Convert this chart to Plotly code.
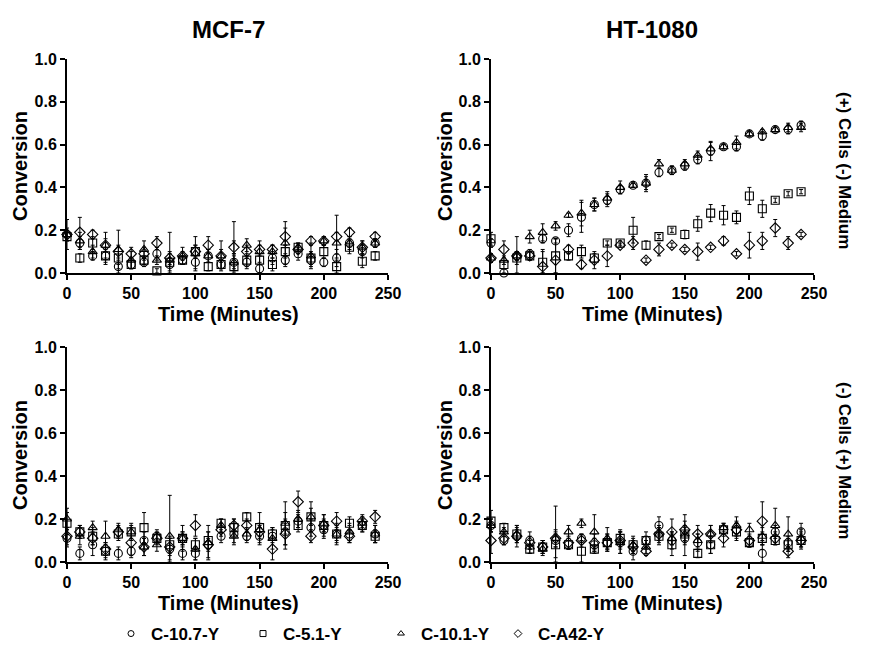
import plotly.graph_objects as go

time = [0, 10, 20, 30, 40, 50, 60, 70, 80, 90, 100, 110, 120, 130, 140, 150, 160, 170, 180, 190, 200, 210, 220, 230, 240]
series_names = ["C-10.7-Y", "C-5.1-Y", "C-10.1-Y", "C-A42-Y"]
col_titles = ["MCF-7", "HT-1080"]
row_titles = ["(+) Cells (-) Medium", "(-) Cells (+) Medium"]
x_ticks = [0, 50, 100, 150, 200, 250]
y_ticks = [0.0, 0.2, 0.4, 0.6, 0.8, 1.0]

# MCF-7, (+) cells (-) medium
mcf_pc_c107 = [.18, .14, .08, .08, .03, .04, .05, .09, .04, .06, .05, .08, .04, .05, .05, .02, .07, .06, .09, .06, .05, .07, .14, .10, .14]
mcf_pc_c51 = [.17, .07, .14, .08, .07, .04, .06, .01, .05, .06, .10, .03, .04, .03, .06, .06, .04, .10, .12, .07, .10, .03, .12, .055, .08]
mcf_pc_c101 = [.18, .15, .10, .13, .11, .06, .11, .06, .06, .08, .09, .08, .08, .05, .13, .10, .10, .14, .12, .08, .15, .14, .14, .12, .14]
mcf_pc_a42 = [.18, .19, .18, .13, .10, .09, .09, .14, .07, .08, .10, .13, .08, .12, .10, .11, .11, .17, .11, .15, .15, .17, .19, .12, .17]
mcf_pc_c107_err = [.02, .03, .02, .03, .03, .02, .02, .03, .03, .02, .03, .03, .02, .03, .03, .02, .03, .03, .03, .03, .02, .04, .02, .03, .02]
mcf_pc_c51_err = [.02, .02, .03, .04, .03, .02, .02, .01, .14, .02, .03, .02, .02, .21, .03, .02, .03, .03, .02, .03, .03, .03, .03, .03, .02]
mcf_pc_c101_err = [.03, .04, .03, .06, .09, .04, .04, .02, .03, .04, .08, .03, .07, .04, .03, .05, .03, .10, .02, .06, .02, .05, .03, .03, .02]
mcf_pc_a42_err = [.07, .07, .02, .03, .03, .03, .03, .03, .03, .02, .03, .04, .03, .03, .03, .02, .02, .04, .02, .02, .02, .10, .02, .03, .02]

# HT-1080, (+) cells (-) medium
ht_pc_c107 = [.14, .00, .08, .09, .16, .15, .20, .26, .32, .34, .39, .41, .42, .47, .48, .50, .53, .57, .59, .59, .65, .64, .67, .67, .69]
ht_pc_c51 = [.16, .04, .07, .08, .05, .08, .08, .10, .07, .14, .14, .20, .13, .17, .20, .18, .23, .28, .27, .26, .36, .30, .34, .37, .38]
ht_pc_c101 = [.07, .06, .08, .17, .19, .22, .27, .28, .32, .35, .40, .41, .42, .51, .48, .51, .55, .58, .59, .61, .65, .66, .67, .68, .68]
ht_pc_a42 = [.07, .11, .08, .08, .03, .06, .11, .04, .06, .08, .13, .14, .06, .11, .13, .11, .10, .12, .15, .09, .13, .15, .21, .14, .18]
ht_pc_c107_err = [.02, .02, .02, .02, .02, .01, .03, .07, .03, .03, .02, .01, .03, .02, .02, .02, .02, .045, .01, .02, .01, .02, .01, .02, .02]
ht_pc_c51_err = [.03, .02, .03, .02, .06, .08, .02, .03, .02, .01, .01, .06, .02, .01, .01, .02, .035, .04, .045, .03, .04, .04, .01, .01, .01]
ht_pc_c101_err = [.02, .02, .02, .03, .04, .02, .01, .06, .03, .03, .03, .01, .04, .02, .02, .02, .02, .03, .01, .03, .01, .01, .01, .02, .02]
ht_pc_a42_err = [.02, .04, .09, .02, .07, .10, .02, .02, .04, .05, .01, .03, .01, .03, .01, .01, .04, .01, .02, .01, .06, .04, .04, .03, .01]

# MCF-7, (-) cells (+) medium
mcf_nc_c107 = [.11, .04, .08, .05, .04, .05, .10, .12, .06, .04, .04, .08, .12, .13, .12, .12, .12, .14, .19, .16, .15, .13, .13, .17, .13]
mcf_nc_c51 = [.18, .14, .12, .05, .13, .14, .16, .11, .08, .11, .08, .10, .18, .16, .21, .16, .13, .17, .17, .21, .17, .13, .18, .17, .12]
mcf_nc_c101 = [.20, .12, .16, .12, .15, .14, .07, .08, .12, .11, .06, .09, .17, .12, .13, .15, .11, .18, .20, .21, .18, .13, .14, .18, .13]
mcf_nc_a42 = [.12, .14, .11, .06, .14, .09, .07, .11, .07, .11, .17, .08, .15, .17, .17, .14, .06, .13, .28, .12, .17, .19, .12, .19, .21]
mcf_nc_c107_err = [.04, .03, .05, .04, .03, .02, .04, .03, .05, .03, .03, .06, .03, .05, .03, .04, .03, .06, .03, .04, .04, .05, .04, .03, .04]
mcf_nc_c51_err = [.05, .03, .04, .03, .03, .03, .07, .02, .04, .03, .03, .04, .02, .04, .02, .07, .03, .11, .03, .07, .05, .03, .03, .03, .03]
mcf_nc_c101_err = [.05, .04, .03, .07, .03, .04, .04, .03, .19, .06, .05, .08, .03, .03, .03, .03, .05, .05, .04, .04, .04, .04, .04, .03, .04]
mcf_nc_a42_err = [.04, .03, .03, .03, .03, .07, .04, .03, .04, .03, .05, .03, .03, .03, .03, .03, .05, .05, .05, .03, .03, .04, .03, .03, .03]

# HT-1080, (-) cells (+) medium
ht_nc_c107 = [.17, .10, .12, .10, .07, .10, .08, .11, .08, .09, .09, .05, .10, .17, .10, .11, .09, .08, .15, .15, .09, .04, .14, .09, .14]
ht_nc_c51 = [.19, .16, .13, .06, .07, .08, .08, .05, .06, .09, .11, .08, .10, .12, .08, .13, .04, .08, .15, .14, .09, .11, .10, .08, .10]
ht_nc_c101 = [.17, .14, .13, .07, .06, .11, .14, .18, .14, .11, .09, .08, .07, .13, .11, .13, .10, .13, .16, .17, .15, .12, .17, .13, .11]
ht_nc_a42 = [.10, .11, .12, .09, .07, .11, .09, .10, .09, .09, .10, .07, .05, .13, .14, .15, .13, .13, .11, .15, .10, .19, .11, .05, .10]
ht_nc_c107_err = [.03, .02, .03, .04, .03, .03, .02, .02, .03, .04, .05, .04, .02, .04, .04, .08, .04, .04, .03, .04, .02, .04, .03, .03, .04]
ht_nc_c51_err = [.05, .02, .03, .02, .03, .06, .02, .05, .02, .04, .04, .03, .04, .04, .05, .03, .02, .04, .02, .04, .02, .03, .02, .03, .03]
ht_nc_c101_err = [.03, .02, .04, .03, .03, .15, .03, .02, .08, .05, .05, .04, .03, .04, .03, .04, .03, .04, .02, .04, .03, .04, .08, .08, .04]
ht_nc_a42_err = [.06, .03, .05, .03, .03, .04, .03, .03, .04, .03, .04, .03, .02, .03, .06, .07, .04, .04, .04, .03, .03, .09, .03, .03, .04]

panels = [
    (1, 1, [mcf_pc_c107, mcf_pc_c51, mcf_pc_c101, mcf_pc_a42], [mcf_pc_c107_err, mcf_pc_c51_err, mcf_pc_c101_err, mcf_pc_a42_err]),
    (1, 2, [ht_pc_c107, ht_pc_c51, ht_pc_c101, ht_pc_a42], [ht_pc_c107_err, ht_pc_c51_err, ht_pc_c101_err, ht_pc_a42_err]),
    (2, 1, [mcf_nc_c107, mcf_nc_c51, mcf_nc_c101, mcf_nc_a42], [mcf_nc_c107_err, mcf_nc_c51_err, mcf_nc_c101_err, mcf_nc_a42_err]),
    (2, 2, [ht_nc_c107, ht_nc_c51, ht_nc_c101, ht_nc_a42], [ht_nc_c107_err, ht_nc_c51_err, ht_nc_c101_err, ht_nc_a42_err]),
]

symbols = ["circle-open", "square-open", "triangle-up-open", "diamond-open"]
W, H = 870, 654
OFF = 8  # page body margin offset
FONT = "Liberation Sans, Arial, sans-serif"

def fx(px):
    return (px - OFF) / W

def fy(py):
    return 1 - (py - OFF) / H

xdom = {1: [fx(67), fx(388)], 2: [fx(491), fx(814)]}
ydom = {1: [fy(273), fy(59)], 2: [fy(562), fy(347)]}

fig = go.Figure()
axis_idx = 0
for (r, c, vals, errs) in panels:
    axis_idx += 1
    sfx = "" if axis_idx == 1 else str(axis_idx)
    for k in range(4):
        minus = [min(e, v) for e, v in zip(errs[k], vals[k])]
        fig.add_trace(go.Scatter(
            x=time, y=vals[k], mode="markers", name=series_names[k],
            showlegend=False,
            xaxis="x" + sfx, yaxis="y" + sfx, cliponaxis=False,
            marker=dict(symbol=symbols[k], size=8, color="black", line=dict(width=1.1, color="black")),
            error_y=dict(type="data", array=errs[k], arrayminus=minus, symmetric=False,
                         color="black", thickness=1, width=2),
        ))
    axstyle = dict(showline=True, linecolor="black", linewidth=2, ticks="outside", ticklen=5,
                   tickwidth=2, tickcolor="black", showgrid=False, zeroline=False, automargin=False,
                   tickfont=dict(family=FONT, size=16, color="black", weight="bold"))
    fig.update_layout(**{
        "xaxis" + sfx: dict(domain=xdom[c], range=[0, 250], tickvals=x_ticks,
                            anchor="y" + sfx, **axstyle),
        "yaxis" + sfx: dict(domain=ydom[r], range=[0, 1.0], tickvals=y_ticks, tickformat=".1f",
                            anchor="x" + sfx, **axstyle),
    })

# one legend per series, placed like the reference's single legend row
legend_marker_x = [130, 262, 400, 517]
legend_layout = {}
for k in range(4):
    lname = "legend" if k == 0 else "legend" + str(k + 1)
    fig.add_trace(go.Scatter(
        x=[None], y=[None], mode="markers", name=series_names[k], showlegend=True,
        legend=lname,
        marker=dict(symbol=symbols[k], size=6, color="black", line=dict(width=1, color="black")),
    ))
    legend_layout[lname] = dict(
        x=fx(legend_marker_x[k] - 19), y=fy(634), xanchor="left", yanchor="middle",
        orientation="h", bgcolor="rgba(0,0,0,0)",
        font=dict(family=FONT, size=17, color="black", weight="bold"))

ann = []
def add_text(text, x, y, size, angle=0):
    ann.append(dict(text=text, x=fx(x), y=fy(y), xref="paper", yref="paper", showarrow=False,
                    textangle=angle, xanchor="center", yanchor="middle",
                    font=dict(family=FONT, size=size, color="black", weight="bold")))

add_text(col_titles[0], 228, 30, 24)
add_text(col_titles[1], 652, 30, 24)
add_text(row_titles[0], 845, 170, 17, 90)
add_text(row_titles[1], 845, 460, 17, 90)
for yc in (166, 455):
    add_text("Conversion", 20, yc, 20, -90)
    add_text("Conversion", 445, yc, 20, -90)
for yc in (314, 603):
    add_text("Time (Minutes)", 228, yc, 20)
    add_text("Time (Minutes)", 652, yc, 20)

fig.update_layout(
    width=W, height=H, margin=dict(l=0, r=0, t=0, b=0, pad=0, autoexpand=False),
    plot_bgcolor="white", paper_bgcolor="white",
    annotations=ann,
    **legend_layout,
)

fig.write_html("out.html")
